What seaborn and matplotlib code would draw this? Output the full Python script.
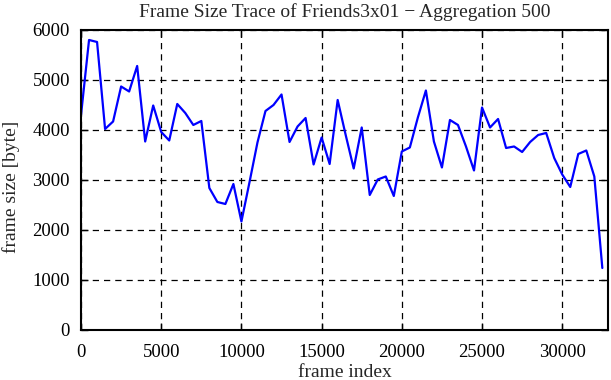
import numpy as np
import pandas as pd
import seaborn as sns
import matplotlib.pyplot as plt

# aggregated frame sizes, one value per 500 frames
frame_index = list(range(0, 33000, 500))
frame_size = [
    4300, 5800, 5760, 4020, 4170, 4870, 4770, 5280, 3770, 4490,
    3960, 3790, 4520, 4340, 4100, 4180, 2840, 2560, 2520, 2920,
    2170, 2950, 3750, 4380, 4500, 4710, 3760, 4070, 4240, 3310,
    3850, 3320, 4600, 3900, 3230, 4050, 2700, 3010, 3070, 2680,
    3570, 3650, 4250, 4790, 3770, 3250, 4200, 4100, 3670, 3190,
    4450, 4050, 4220, 3640, 3670, 3560, 3760, 3900, 3940, 3440,
    3110, 2860, 3520, 3590, 3070, 1240,
]
df = pd.DataFrame({"frame index": frame_index, "frame size": frame_size})

sns.set_style("ticks")
plt.rcParams["font.family"] = ["Liberation Serif", "DejaVu Serif"]
plt.rcParams["font.size"] = 14

fig = plt.figure(figsize=(6.11, 3.8), dpi=100)
ax = fig.add_axes([0.1326, 0.1316, 0.8624, 0.7895])

sns.lineplot(data=df, x="frame index", y="frame size", color="#0000ff",
             linewidth=1.6, ax=ax)

ax.set_xlim(0, 32850)
ax.set_ylim(0, 6000)
ax.set_xticks(range(0, 30001, 5000))
ax.set_yticks(range(0, 6001, 1000))
ax.grid(True, color="black", linestyle=(0, (5, 4)), linewidth=0.9)
ax.set_axisbelow(True)
ax.tick_params(direction="in", top=True, right=True, length=5, width=1,
               labelsize=13.5, colors="black")
ax.tick_params(axis="x", pad=10)
ax.tick_params(axis="y", pad=8)
for s in ax.spines.values():
    s.set_linewidth(1.5)
    s.set_color("black")

ax.set_title("Frame Size Trace of Friends3x01 \u2212 Aggregation 500",
             fontsize=14, pad=9.4)
ax.set_xlabel("frame index", fontsize=14, va="baseline")
ax.xaxis.set_label_coords(0.5, -0.158)
ax.set_ylabel("frame size [byte]", fontsize=14)
ax.yaxis.set_label_coords(-0.115, 0.477)

plt.savefig("out.png", dpi=100)
